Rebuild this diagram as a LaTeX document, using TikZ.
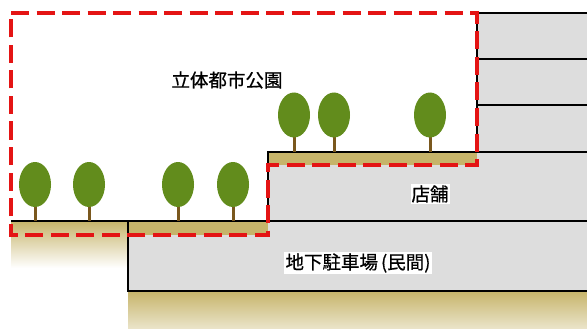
\documentclass[tikz,border=0pt]{standalone}
\usepackage{fontspec}
\newfontfamily\jpfont[FakeBold=0.6]{Noto Sans CJK JP}
\usetikzlibrary{shapes,shadings}
\definecolor{soil}{RGB}{198,180,106}
\definecolor{leaf}{RGB}{98,140,28}
\definecolor{bark}{RGB}{122,88,30}
\definecolor{floorgray}{RGB}{221,221,221}
\definecolor{parkred}{RGB}{228,20,20}
\tikzstyle{canopy}=[ellipse,fill=leaf,draw=none,minimum width=32pt,minimum height=45pt,inner sep=0pt]
\tikzstyle{trunk}=[draw=bark,line width=3pt]
\tikzstyle{wall}=[draw=black,line width=2pt]
\tikzstyle{parkline}=[draw=parkred,line width=3.4pt,dash pattern=on 18pt off 7.5pt]
\tikzstyle{label}=[font=\jpfont\fontsize{18.5}{20}\selectfont,inner sep=1pt]

\begin{document}
\begin{tikzpicture}[x=1pt,y=-1pt]

  \useasboundingbox[fill=white] (0,0) rectangle (587,329);

  % soil under ground level and under the basement
  \shade[top color=soil,bottom color=white] (11,221) rectangle (128,268);
  \shade[top color=soil,bottom color=soil!35] (128,291) rectangle (587,329);

  % building blocks
  \fill[floorgray] (128,221) rectangle (587,291);
  \fill[floorgray] (268,152) rectangle (587,221);
  \fill[floorgray] (477,13) rectangle (587,152);

  % planted soil on both park levels
  \fill[soil] (128,221) rectangle (268,235);
  \fill[soil] (268,152) rectangle (477,165);

  % outlines
  \draw[wall] (11,221) -- (587,221);
  \draw[wall] (587,291) -- (128,291) -- (128,221);
  \draw[wall] (268,221) -- (268,152) -- (587,152);
  \foreach \y in {13, 59, 105}
     \draw[wall] (477,\y) -- (587,\y);
  \draw[wall] (477,13) -- (477,152);

  % park area
  \draw[parkline] (11,13) -- (477,13) -- (477,165) -- (268,165) -- (268,235) -- (11,235) -- cycle;

  % trees
  \foreach \x/\y/\g/\name in {35/184.5/221/t1, 89/184.5/221/t2, 178/184.5/221/t3, 233/184.5/221/t4,
                             294/115/152/t5, 334/115/152/t6, 430/115/152/t7}
  {
     \draw[trunk] (\x,\y) -- (\x,\g);
     \node[canopy] (\name) at (\x,\y) {};
  }

  \node[label] (park) at (227,80) {立体都市公園};
  \node[label,fill=white] (shop) at (430,194) {店舗};
  \node[label,fill=white] (parking) at (358,263) {地下駐車場\kern3pt(民間)};

\end{tikzpicture}
\end{document}
